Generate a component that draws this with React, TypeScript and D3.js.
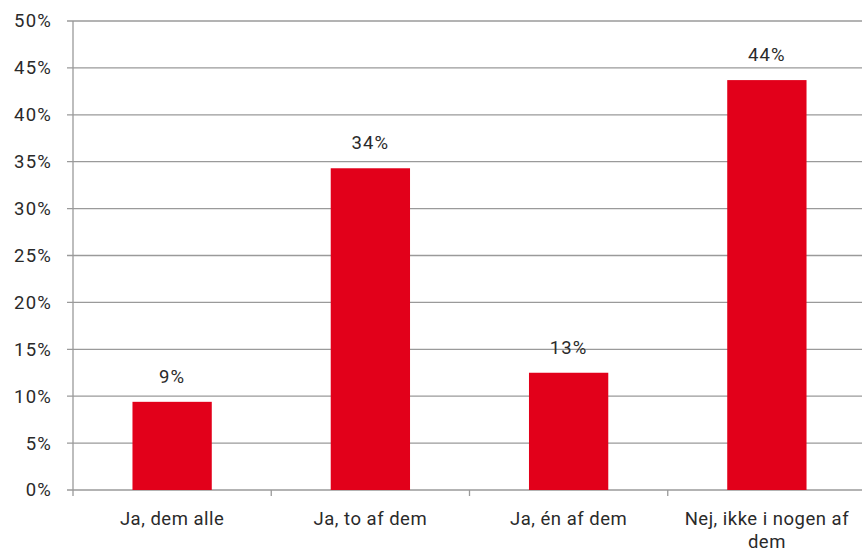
import React from "react";
import * as d3 from "d3";

const categories = ["Ja, dem alle", "Ja, to af dem", "Ja, én af dem", "Nej, ikke i nogen af dem"];
const values = [0.094, 0.343, 0.125, 0.437];
const valueLabels = ["9%", "34%", "13%", "44%"];
const yTicks = [0, 0.05, 0.1, 0.15, 0.2, 0.25, 0.3, 0.35, 0.4, 0.45, 0.5];

const W = 862, H = 557;
const left = 73, right = 866, top = 21, bottom = 490;
const FONT = "Roboto, 'DejaVu Sans', sans-serif";
const RED = "#e2001a";
const GRID = "#9a9a9a";

function wrap(label: string, maxChars: number): string[] {
  const words = label.split(" ");
  const lines: string[] = [];
  let cur = "";
  for (const w of words) {
    const t = cur ? cur + " " + w : w;
    if (t.length > maxChars && cur) { lines.push(cur); cur = w; } else cur = t;
  }
  if (cur) lines.push(cur);
  return lines;
}

export default function App() {
  const x = d3.scaleBand<string>().domain(categories).range([left, right]).paddingInner(0.6).paddingOuter(0.3);
  const xOuter = d3.scaleBand<string>().domain(categories).range([left, right]).padding(0);
  const y = d3.scaleLinear().domain([0, 0.5]).range([bottom, top]);
  const fmt = d3.format(".0%");
  return (
    <svg width={W} height={H} style={{ position: "absolute", left: 0, top: 0, background: "#fff" }}>
      {yTicks.map((t) => (
        <g key={t}>
          <line x1={left - 6} x2={W} y1={y(t)} y2={y(t)} stroke={GRID} strokeWidth={1.3} />
          <text x={52} y={y(t)} dy="0.35em" textAnchor="end" fontFamily={FONT} fontSize={18.5} letterSpacing={1.2} fill="#2a2a2a">{fmt(t)}</text>
        </g>
      ))}
      <line x1={left} x2={left} y1={top} y2={bottom + 6} stroke={GRID} strokeWidth={1.3} />
      {categories.map((c) => (
        <line key={"t" + c} x1={(xOuter(c) as number) + xOuter.bandwidth()} x2={(xOuter(c) as number) + xOuter.bandwidth()} y1={bottom} y2={bottom + 6} stroke={GRID} strokeWidth={1.3} />
      ))}
      {categories.map((c, i) => (
        <g key={c}>
          <rect x={x(c)} y={y(values[i])} width={x.bandwidth()} height={bottom - y(values[i])} fill={RED} />
          <text x={(x(c) as number) + x.bandwidth() / 2} y={y(values[i]) - 19} textAnchor="middle" fontFamily={FONT} fontSize={18.5} letterSpacing={1.2} fill="#2a2a2a">{valueLabels[i]}</text>
          <text textAnchor="middle" fontFamily={FONT} fontSize={18.5} letterSpacing={0.5} fill="#2a2a2a">
            {wrap(c, 20).map((l, j) => (
              <tspan key={j} x={(xOuter(c) as number) + xOuter.bandwidth() / 2} y={525 + j * 23}>{l}</tspan>
            ))}
          </text>
        </g>
      ))}
    </svg>
  );
}
